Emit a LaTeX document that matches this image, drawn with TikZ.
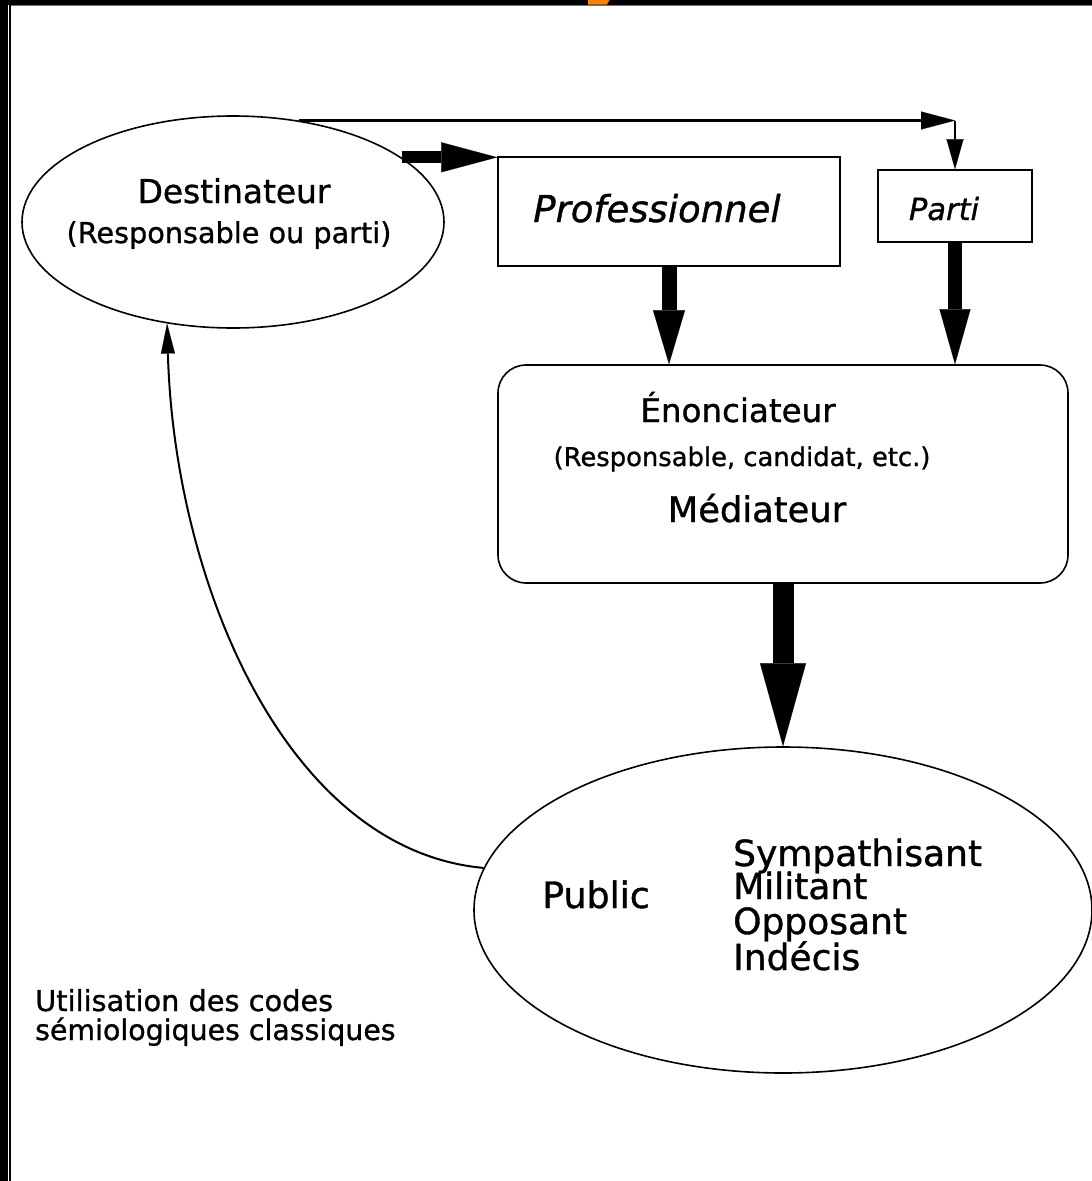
\documentclass[tikz,border=0pt]{standalone}
\usepackage{fontspec}
\newfontfamily\mfont[FakeBold=1]{DejaVu Sans}
\usetikzlibrary{arrows.meta,shapes.geometric}
\definecolor{tabor}{HTML}{FF8000}
\begin{document}
\begin{tikzpicture}[x=1pt,y=-1pt,
  outline/.style={draw=black, line width=1.6pt, inner sep=0pt},
  fs/.style={font=\mfont\fontsize{#1}{#1}\selectfont},
  fsi/.style={font=\mfont\fontsize{#1}{#1}\selectfont\itshape},
  lbl/.style={anchor=base, inner sep=0pt},
  thin arrow/.style={line width=#1, -{Triangle[length=34pt,width=18pt,line width=0.1pt]}},
  fat arrow/.style args={#1/#2/#3}{line width=#1, -{Triangle[length=#2,width=#3,line width=0.1pt]}}
]
\useasboundingbox (0,0) rectangle (1092,1181);
\fill[white] (0,0) rectangle (1092,1181);
% frame
\fill[black] (0,0) rectangle (1092,4.5);
\fill[black!55] (9.3,4.5) rectangle (1092,6);
\fill[black] (0,0) rectangle (8.3,1181);
\fill[black] (9.3,4.5) rectangle (11,1181);
\fill[tabor] (588,0) -- (609.5,0) -- (607,4.5) -- (588,4.5) -- cycle;

% shapes
\node[outline, ellipse, minimum width=422pt, minimum height=212pt] (dest) at (233,222) {};
\node[outline, rectangle, minimum width=342pt, minimum height=109pt] (prof) at (669,211.5) {};
\node[outline, rectangle, minimum width=154pt, minimum height=72pt] (parti) at (955,206) {};
\node[outline, rectangle, rounded corners=28pt, minimum width=570pt, minimum height=218pt] (enon) at (783,474) {};
\node[outline, ellipse, minimum width=618pt, minimum height=326pt] (public) at (783,910) {};

% texts
\node[lbl, fs=32.8] (tdest) at (234,203) {Destinateur};
\node[lbl, fs=28.7] (tdest2) at (229,243) {(Responsable ou parti)};
\node[lbl, fsi=37] (tprof) at (657,222) {Professionnel};
\node[lbl, fsi=30.5] (tparti) at (944,220) {Parti};
\node[lbl, fs=32.5] (tenon) at (738,422) {Énonciateur};
\node[lbl, fs=25.8] (tenon2) at (742,466) {(Responsable, candidat, etc.)};
\node[lbl, fs=35.3] (tmed) at (757,522) {Médiateur};
\node[lbl, fs=36.3] (tpub) at (596,908) {Public};
\node[lbl, fs=36, anchor=base west, text depth=0pt] (l1) at (733,866) {Sympathisant};
\node[lbl, fs=36, anchor=base west, text height=20pt] (l2) at (733,899) {Militant};
\node[lbl, fs=36, anchor=base west, text height=20pt, text depth=0pt] (l3) at (733,934) {Opposant};
\node[lbl, fs=36, anchor=base west, text height=20pt] (l4) at (733,970) {Indécis};
\node[lbl, fs=28.8, anchor=base west, text depth=0pt] (u1) at (35,1011) {Utilisation des codes};
\node[lbl, fs=28.4, anchor=base west, text height=18pt] (u2) at (35,1040) {sémiologiques classiques};

% connectors
\coordinate (corner) at (parti.north |- dest.57.6);
\draw[thin arrow=3.4pt] (dest.57.6) -- (corner);
\draw[line width=2.8pt, -{Triangle[length=30pt,width=17pt,line width=0.1pt]}] (corner) -- (parti.north);
\draw[fat arrow=12pt/56pt/30pt] (dest.21.6) -- (dest.21.6 -| prof.west);
\draw[fat arrow=15pt/54pt/32pt] (prof.south) -- (prof.south |- enon.north);
\draw[fat arrow=14pt/55pt/31pt] (parti.south) -- (parti.south |- enon.north);
\draw[fat arrow=21pt/83pt/46pt] (enon.south) -- (public.north);
\draw[line width=2pt, -{Triangle[length=30pt,width=14pt,line width=0.1pt]}]
  (public.172.8) .. controls (285,850) and (174,580) .. (dest.237.3);
\end{tikzpicture}
\end{document}
